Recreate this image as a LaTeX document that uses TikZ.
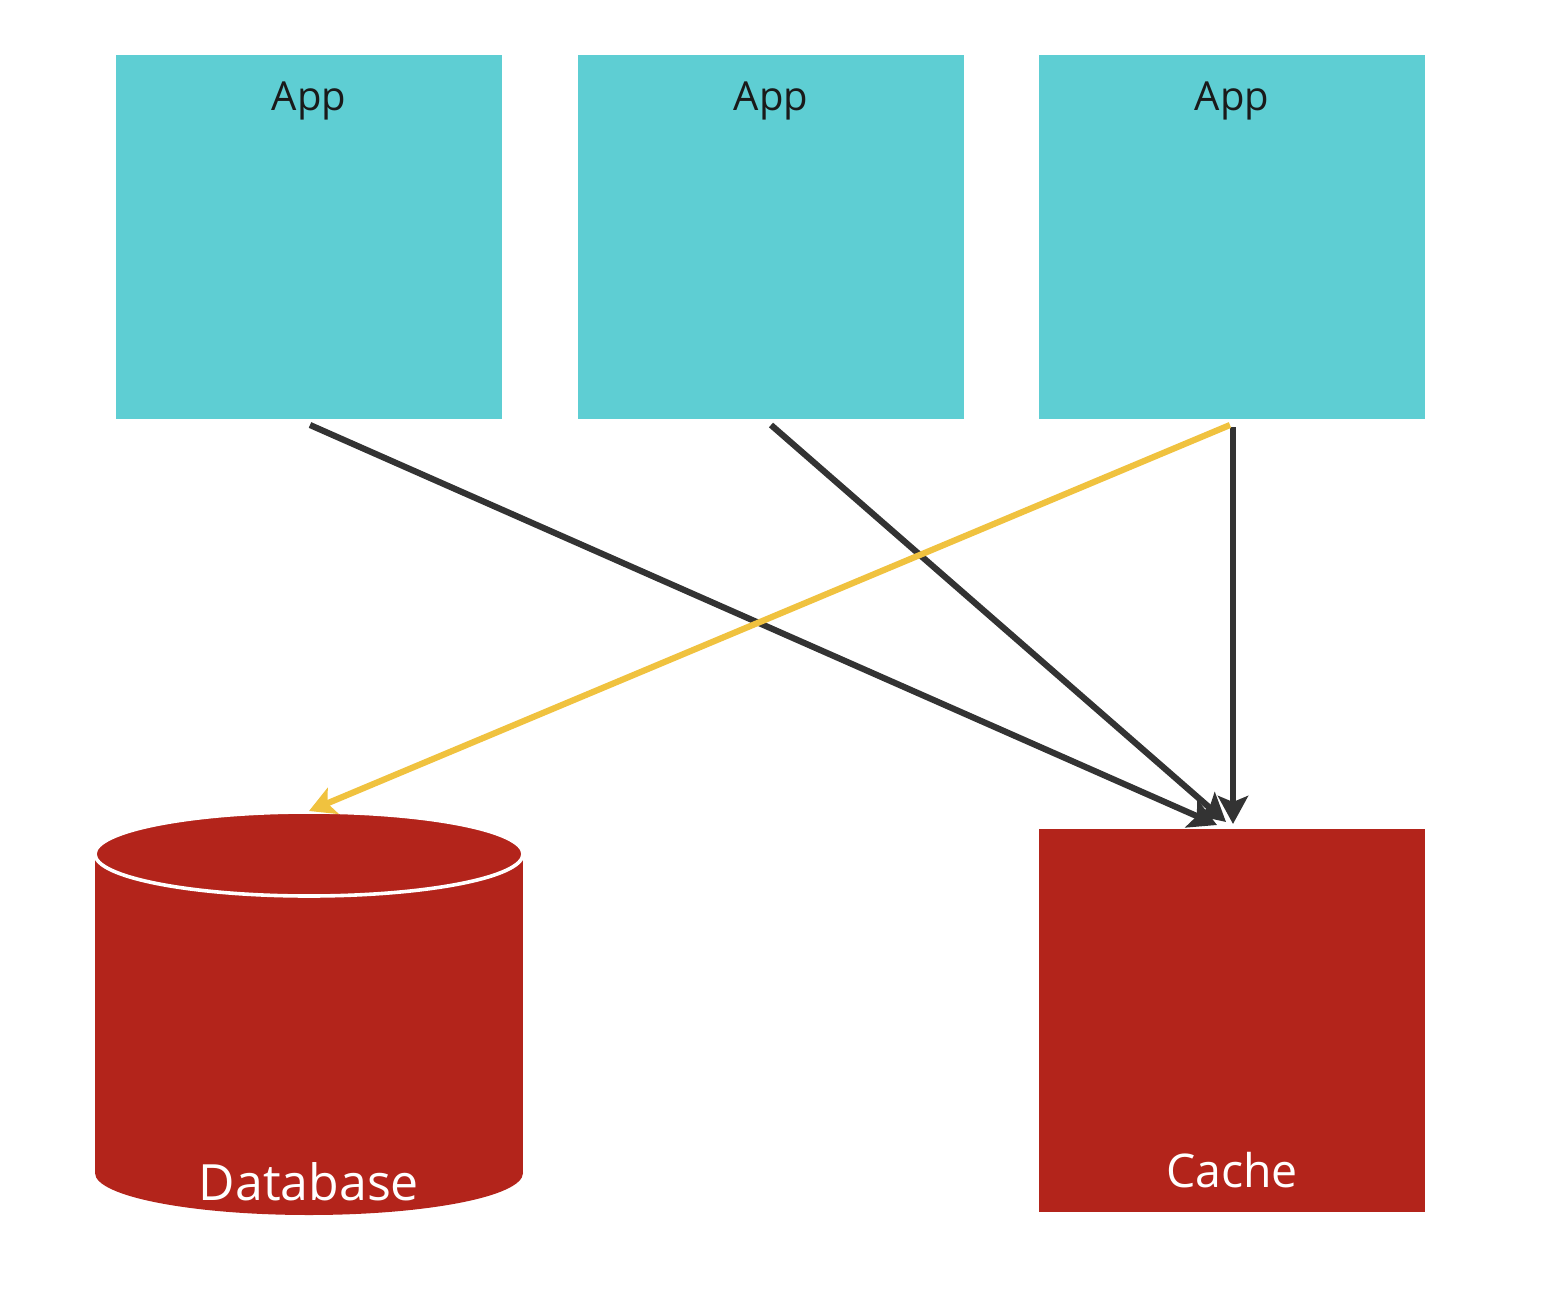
\documentclass[tikz,border=0pt]{standalone}
\usepackage{fontspec}
\setmainfont{Open Sans}
\usetikzlibrary{arrows.meta,calc}
\definecolor{appteal}{HTML}{5ECED3}
\definecolor{dbred}{HTML}{B3241B}
\definecolor{linedark}{HTML}{333333}
\definecolor{lineyellow}{HTML}{F0C23F}
\definecolor{txtdark}{HTML}{1A1A1A}
\tikzset{
  appbox/.style={rectangle, fill=appteal, draw=white, line width=0.6pt, minimum width=194pt, minimum height=183pt, inner sep=0pt, outer sep=0pt},
  cachebox/.style={rectangle, fill=dbred, draw=white, line width=0.6pt, minimum width=194pt, minimum height=192.5pt, inner sep=0pt, outer sep=0pt},
  apptext/.style={text=txtdark, font=\fontsize{20}{22}\selectfont, inner sep=0pt},
  dbtext/.style={text=white, font=\fontsize{25}{30}\selectfont, inner sep=0pt},
  cachetext/.style={text=white, font=\fontsize{23.2}{28}\selectfont, inner sep=0pt},
  darkarrow/.style={draw=linedark, line width=3.1pt, -{Stealth[length=14pt,width=15pt,inset=3pt]}},
  yellowarrow/.style={draw=lineyellow, line width=3.1pt, -{Stealth[length=13pt,width=14pt,inset=3pt]}},
}
\begin{document}
\begin{tikzpicture}[x=0.5pt,y=-0.5pt]
\useasboundingbox (0,0) rectangle (1542,1300);
% app boxes
\node[appbox] (a1) at (309,237) {};
\node[appbox] (a2) at (771,237) {};
\node[appbox] (a3) at (1232,237) {};
\node[apptext] (t1) at (309,101) {App};
\node[apptext] (t2) at (771,101) {App};
\node[apptext] (t3) at (1232,101) {App};
% cache
\node[cachebox] (cache) at (1232,1020.5) {};
\node[cachetext] (tc) at (1232,1170) {Cache};
% database cylinder
\fill[dbred] (95,854) rectangle (523,1173);
\fill[dbred] (309,1173) ellipse[x radius=214, y radius=42];
\filldraw[fill=dbred, draw=white, line width=1.8pt] (309,854) ellipse[x radius=214, y radius=42];
\node[inner sep=0pt, minimum width=214pt, minimum height=201pt] (db) at (309,1013) {};
\coordinate (dbtop) at (309,811);
\node[dbtext] (td) at (309,1182) {Database};
% connectors
\draw[darkarrow] ($(a1.south)+(1,5)$) -- ($(cache.north)+(-15,-3)$);
\draw[darkarrow] ($(a2.south)+(0,5)$) -- ($(cache.north)+(-6,-6)$);
\draw[darkarrow] ($(a3.south)+(1,7)$) -- ($(cache.north)+(1,-4)$);
\draw[yellowarrow] ($(a3.south)+(-2,5)$) -- (dbtop);
\end{tikzpicture}
\end{document}
